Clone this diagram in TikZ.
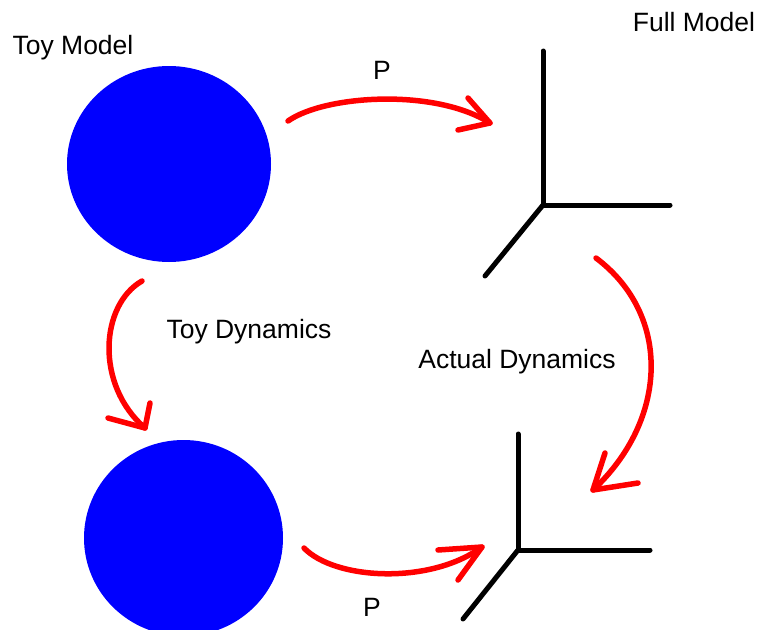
\documentclass[tikz,border=0pt]{standalone}
\usepackage{fontspec}
\setmainfont{Liberation Sans}
\usetikzlibrary{shapes.geometric}
\definecolor{dblue}{RGB}{0,0,255}
\definecolor{dred}{RGB}{255,0,0}
\begin{document}
\begin{tikzpicture}[x=1pt,y=-1pt,
  ball/.style={ellipse,fill=dblue,draw=none,inner sep=0pt},
  axis/.style={line width=5pt,black,line cap=round},
  flow/.style={line width=5.5pt,dred,line cap=round,line join=round},
  lbl/.style={font=\fontsize{26.5}{30}\selectfont,inner sep=0pt,text=black}]
\useasboundingbox (0,0) rectangle (757,629);
\clip (0,0) rectangle (757,629);
% balls
\node[ball,minimum width=204pt,minimum height=196pt] (toyA) at (169,164) {};
\node[ball,minimum width=199pt,minimum height=196pt] (toyB) at (183.5,538) {};
% axes top
\coordinate (oA) at (543,205);
\coordinate (zA) at (543,51);
\coordinate (xA) at (670,205);
\coordinate (yA) at (485,276);
\draw[axis] (zA) -- (oA) -- (xA);
\draw[axis] (oA) -- (yA);
% axes bottom
\coordinate (oB) at (518,550);
\coordinate (zB) at (518,434);
\coordinate (xB) at (650,550);
\coordinate (yB) at (463,619);
\draw[axis] (zB) -- (oB) -- (xB);
\draw[axis] (oB) -- (yB);
% labels
\node[lbl] (tm) at (73,48) {Toy Model};
\node[lbl] (fm) at (694,22) {Full Model};
\node[lbl] (p1) at (382,70) {P};
\node[lbl] (td) at (249,332) {Toy Dynamics};
\node[lbl] (ad) at (517,362) {Actual Dynamics};
\node[lbl] (p2) at (372,607) {P};
% arrow endpoints
\coordinate (s1) at (288,121);
\coordinate (t1) at (490,123);
\coordinate (s2) at (142,281);
\coordinate (t2) at (145,428);
\coordinate (s3) at (596,258);
\coordinate (t3) at (593,490);
\coordinate (s4) at (304,548);
\coordinate (t4) at (482,547);
% arrows
\draw[flow] (s1) .. controls (325,95) and (435,88) .. (t1);
\draw[flow] (468,98) -- (t1) -- (458,130);
\draw[flow] (s2) .. controls (100,305) and (95,385) .. (t2);
\draw[flow] (108,418) -- (t2) -- (150,403);
\draw[flow] (s3) .. controls (672,315) and (668,420) .. (t3);
\draw[flow] (605,453) -- (t3) -- (638,483);
\draw[flow] (s4) .. controls (335,580) and (430,585) .. (t4);
\draw[flow] (438,550) -- (t4) -- (458,580);
\end{tikzpicture}
\end{document}
